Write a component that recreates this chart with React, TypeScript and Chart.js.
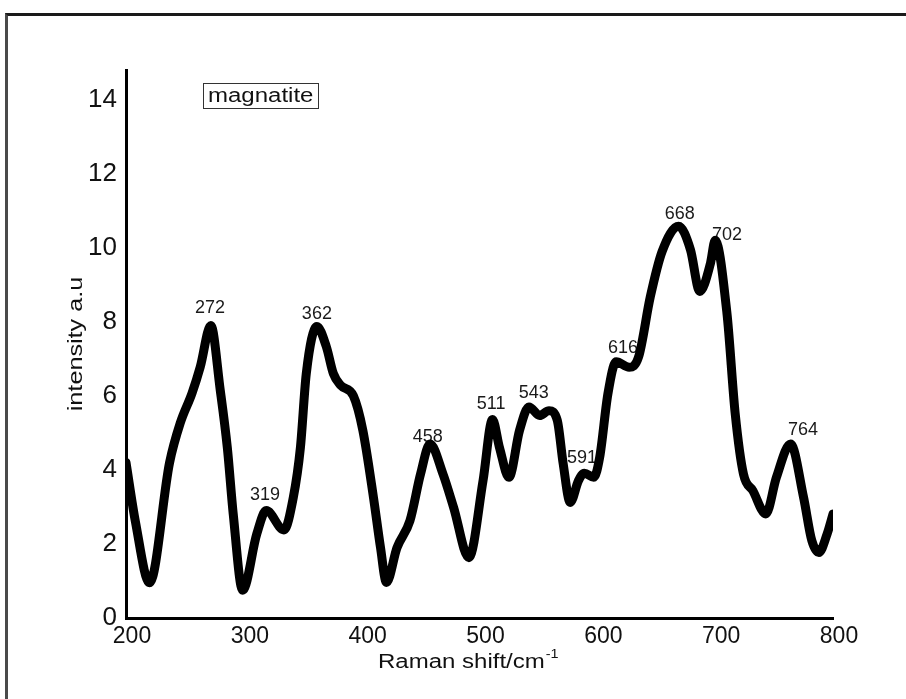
import React, { useEffect, useRef } from "react";
import { Chart, registerables } from "chart.js";

Chart.register(...registerables);

// ---- data ----
const ramanShift = [200, 208, 220, 237, 246, 256, 263, 272, 280, 286, 291, 299, 311, 319, 334, 342, 348, 353, 362, 370, 376, 382, 393, 401, 410, 416, 421, 430, 441, 450, 458, 469, 478, 491, 503, 511, 517, 525, 534, 542, 551, 559, 566, 571, 577, 584, 589, 597, 602, 609, 616, 627, 635, 645, 655, 669, 679, 687, 696, 700, 710, 717, 724, 732, 743, 752, 764, 775, 782, 788, 795, 800];
const intensity = [4.2, 2.6, 0.95, 4.2, 5.26, 6.07, 6.78, 7.9, 6.15, 4.6, 2.81, 0.75, 2.27, 2.9, 2.38, 3.26, 4.6, 6.6, 7.87, 7.33, 6.6, 6.29, 6.0, 5.07, 3.26, 1.9, 0.96, 1.9, 2.63, 3.89, 4.7, 3.89, 2.99, 1.63, 3.71, 5.36, 4.6, 3.8, 5.07, 5.7, 5.47, 5.6, 5.34, 4.17, 3.12, 3.71, 3.91, 3.8, 4.34, 6.06, 6.92, 6.77, 7.05, 8.68, 9.9, 10.58, 9.95, 8.82, 9.58, 10.2, 8.23, 5.52, 3.89, 3.44, 2.81, 3.8, 4.7, 3.26, 2.09, 1.77, 2.27, 2.81];

const xTicks = [200, 300, 400, 500, 600, 700, 800];
const yTicks = [0, 2, 4, 6, 8, 10, 12, 14];

const peakLabels = ["272", "319", "362", "458", "511", "543", "591", "616", "668", "702", "764"];
const peakLabelX = [271.3, 318, 362, 456, 509.8, 546, 587, 621.8, 670, 710, 774.6];
const peakLabelY = [8.37, 3.31, 8.21, 4.88, 5.77, 6.07, 4.31, 7.29, 10.92, 10.35, 5.09];

const seriesName = "magnatite";
const xTitle = "Raman shift/cm";
const xTitleSup = "-1";
const yTitle = "intensity a.u";

const FONT = '"Liberation Sans", Arial, sans-serif';

function stretchedText(ctx: CanvasRenderingContext2D, text: string, x: number, y: number, sx: number) {
  ctx.save();
  ctx.translate(x, y);
  ctx.scale(sx, 1);
  ctx.fillText(text, 0, 0);
  ctx.restore();
}

const underlayPlugin = {
  id: "peakLabels",
  beforeDatasetsDraw(chart: any) {
    const { ctx, scales } = chart;
    const xs = scales.x;
    const ys = scales.y;
    ctx.save();
    ctx.fillStyle = "#1a1a1a";
    ctx.font = `18px ${FONT}`;
    ctx.textAlign = "center";
    ctx.textBaseline = "middle";
    peakLabels.forEach((t, i) => {
      ctx.fillText(t, xs.getPixelForValue(peakLabelX[i]), ys.getPixelForValue(peakLabelY[i]));
    });
    ctx.restore();
  },
};

const overlayPlugin = {
  id: "overlayTexts",
  afterDraw(chart: any) {
    const { ctx, chartArea } = chart;
    ctx.save();
    // legend box
    const lx = chartArea.left + 77;
    const ly = chartArea.top + 13;
    ctx.strokeStyle = "#333";
    ctx.lineWidth = 1;
    ctx.strokeRect(lx + 0.5, ly + 0.5, 115, 25);
    ctx.fillStyle = "#111";
    ctx.font = `20px ${FONT}`;
    ctx.textAlign = "left";
    ctx.textBaseline = "middle";
    stretchedText(ctx, chart.data.datasets[0].label, lx + 5, ly + 13, 1.2);

    // x title
    ctx.textBaseline = "alphabetic";
    ctx.font = `20px ${FONT}`;
    const tx = chartArea.left + 252;
    const ty = chartArea.bottom + 50;
    stretchedText(ctx, xTitle, tx, ty, 1.2);
    const w = ctx.measureText(xTitle).width * 1.2;
    ctx.font = `12px ${FONT}`;
    stretchedText(ctx, xTitleSup, tx + w + 1, ty - 10, 1.2);

    // y title
    ctx.font = `21px ${FONT}`;
    ctx.textAlign = "center";
    ctx.textBaseline = "middle";
    ctx.save();
    ctx.translate(76, (chartArea.top + chartArea.bottom) / 2);
    ctx.rotate(-Math.PI / 2);
    ctx.scale(1.2, 1);
    ctx.fillText(yTitle, 0, 0);
    ctx.restore();
    ctx.restore();
  },
};

export default function App() {
  const canvasRef = useRef<HTMLCanvasElement | null>(null);

  useEffect(() => {
    if (!canvasRef.current) return;
    const chart = new Chart(canvasRef.current, {
      type: "line",
      data: {
        datasets: [
          {
            label: seriesName,
            data: ramanShift.map((x, i) => ({ x, y: intensity[i] })),
            borderColor: "#000",
            borderWidth: 9,
            borderCapStyle: "round",
            borderJoinStyle: "round",
            pointRadius: 0,
            cubicInterpolationMode: "monotone",
            fill: false,
          },
        ],
      },
      options: {
        animation: false,
        responsive: true,
        maintainAspectRatio: false,
        layout: { padding: { left: 0, top: 70, right: 73, bottom: 0 } },
        plugins: {
          legend: { display: false },
          tooltip: { enabled: false },
          title: { display: false },
        },
        scales: {
          x: {
            type: "linear",
            min: 200,
            max: 800,
            afterBuildTicks: (s: any) => {
              s.ticks = xTicks.map((v) => ({ value: v }));
            },
            afterFit: (s: any) => {
              s.height = 81;
            },
            grid: { display: false, drawTicks: false },
            border: { display: true, color: "#000", width: 3 },
            ticks: {
              color: "#111",
              font: { family: FONT, size: 23 },
              padding: 5,
              labelOffset: 6,
              maxRotation: 0,
              autoSkip: false,
            },
          },
          y: {
            type: "linear",
            min: 0,
            max: 14.8,
            afterBuildTicks: (s: any) => {
              s.ticks = yTicks.map((v) => ({ value: v }));
            },
            afterFit: (s: any) => {
              s.width = 126;
            },
            grid: { display: false, drawTicks: false },
            border: { display: true, color: "#000", width: 3 },
            ticks: {
              color: "#111",
              font: { family: FONT, size: 26 },
              padding: 9,
              autoSkip: false,
            },
          },
        },
      },
      plugins: [underlayPlugin, overlayPlugin],
    } as any);
    return () => chart.destroy();
  }, []);

  return (
    <div style={{ position: "fixed", left: 0, top: 0, width: 906, height: 699, background: "#fff" }}>
      <div
        style={{
          position: "absolute",
          left: 5,
          top: 13,
          width: 920,
          height: 720,
          borderTop: "3px solid #1a1a1a",
          borderLeft: "3px solid #4a4a4a",
        }}
      />
      <canvas ref={canvasRef} style={{ position: "absolute", left: 0, top: 0 }} />
    </div>
  );
}
